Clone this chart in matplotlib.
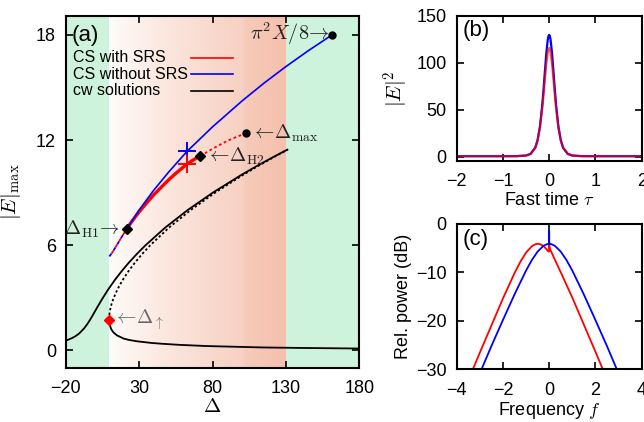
import numpy as np
import matplotlib
matplotlib.use('Agg')
import matplotlib.pyplot as plt

plt.rcParams['font.family'] = ['Liberation Sans', 'DejaVu Sans']
plt.rcParams['mathtext.fontset'] = 'cm'

# ---------------- data ----------------
# cw solutions, panel (a)
cw_upper_delta = [-20.0, -18.69, -15.83, -13.63, -11.87, -10.40, -7.54, -5.31, -3.40, -1.64, 0.07, 1.78,
                  3.52, 5.32, 9.14, 13.32, 17.91, 22.94, 28.43, 34.38, 47.71, 62.98, 80.21, 99.44,
                  109.82, 120.71, 125.23, 131.0]
cw_upper_E = [0.562, 0.6, 0.7, 0.8, 0.9, 1.0, 1.25, 1.5, 1.75, 2.0, 2.25, 2.5,
              2.75, 3.0, 3.5, 4.0, 4.5, 5.0, 5.5, 6.0, 7.0, 8.0, 9.0, 10.0,
              10.5, 11.0, 11.2, 11.45]
cw_middle_delta = [9.6, 9.62, 9.7, 10.1, 10.75, 11.60, 12.68, 15.36, 18.68, 22.59, 27.06, 32.08,
                   37.62, 50.29, 65.02, 81.79, 100.56, 110.68, 121.29, 125.65, 131.0]
cw_middle_E = [1.76, 1.9, 2.0, 2.25, 2.5, 2.75, 3.0, 3.5, 4.0, 4.5, 5.0, 5.5,
               6.0, 7.0, 8.0, 9.0, 10.0, 10.5, 11.0, 11.2, 11.45]
cw_lower_delta = [9.6, 9.75, 10.2, 11.1, 12.5, 14.9, 19.4, 23.1, 28.8, 38.2, 45.8,
                  57.3, 76.3, 95.4, 114.5, 143.1, 180.0]
cw_lower_E = [1.76, 1.6, 1.4, 1.2, 1.03, 0.86, 0.68, 0.6, 0.52, 0.43, 0.38,
              0.32, 0.25, 0.21, 0.17, 0.14, 0.11]

# cavity soliton without SRS (blue)
cs_blue_delta = [21.6, 30, 40, 50, 62.5, 80, 100, 115, 130, 145, 161.5]
cs_blue_E = [6.93, 8.01, 9.14, 10.16, 11.34, 12.75, 14.22, 15.24, 16.19, 17.08, 18.0]
# unstable low-detuning part (dashed red/blue)
cs_low_delta = [9.74, 12.0, 15.0, 18.0, 21.6]
cs_low_E = [5.36, 5.62, 6.03, 6.45, 6.93]
# cavity soliton with SRS (red), stable part and unstable part
cs_red_delta = [21.6, 25, 30, 35, 40, 45, 50, 55, 62.5, 67, 71.6]
cs_red_E = [6.93, 7.35, 7.9, 8.4, 8.88, 9.3, 9.72, 10.1, 10.62, 10.87, 11.09]
cs_red_unst_delta = [71.6, 80, 90, 97, 102.8]
cs_red_unst_E = [11.09, 11.5, 11.95, 12.2, 12.39]

# special points
delta_H1, E_H1 = 21.6, 6.93
delta_H2, E_H2 = 71.6, 11.09
delta_max, E_max = 102.8, 12.39
delta_end, E_end = 161.5, 18.0
delta_up, E_up = 9.6, 1.76
delta_sel = 62.5
E_sel_blue, E_sel_red = 11.37, 10.62
green_left_end = 9.5
green_right_start = 130.0

legend_labels = ['CS with SRS', 'CS without SRS', 'cw solutions']

# panel (b): intracavity intensity profiles
tau = [-2.0, -1.0, -0.7, -0.5, -0.4, -0.3, -0.25, -0.2, -0.15, -0.12, -0.09, -0.06, -0.03, -0.015, 0.0,
       0.015, 0.03, 0.06, 0.09, 0.12, 0.15, 0.2, 0.25, 0.3, 0.4, 0.5, 0.7, 1.0, 2.0]
I_blue = [0.5, 0.5, 0.55, 1.2, 3.0, 9.6, 17.7, 31.8, 54.7, 72.6, 92.3, 110.9, 124.5, 128.2, 129.5,
          128.2, 124.5, 110.9, 92.3, 72.6, 54.7, 31.8, 17.7, 9.6, 3.0, 1.2, 0.55, 0.5, 0.5]
I_red = [0.5, 0.5, 0.55, 1.2, 3.1, 9.7, 17.4, 30.6, 51.1, 66.9, 84.0, 99.9, 111.3, 114.4, 115.5,
         114.4, 111.3, 99.9, 84.0, 66.9, 51.1, 30.6, 17.4, 9.7, 3.1, 1.2, 0.55, 0.5, 0.5]

# panel (c): spectra (dB)
f_blue = [-3.1, -2.5, -2.0, -1.5, -1.0, -0.75, -0.5, -0.25, -0.1, 0.0, 0.0, 0.0,
          0.1, 0.25, 0.5, 0.75, 1.0, 1.5, 2.0, 2.5, 3.1]
P_blue = [-32.0, -25.24, -19.85, -14.57, -9.62, -7.46, -5.70, -4.52, -4.17, -4.1, -1.5, -4.1,
          -4.17, -4.52, -5.70, -7.46, -9.62, -14.57, -19.85, -25.24, -32.0]
f_red = [-3.49, -2.99, -2.49, -1.99, -1.49, -1.24, -0.99, -0.74, -0.59, -0.49, -0.39, -0.24,
         -0.05, 0.0, 0.0, 0.02, 0.26, 0.51, 1.01, 1.51, 2.01, 2.51]
P_red = [-32.2, -26.5, -20.9, -15.3, -10.07, -7.76, -5.84, -4.56, -4.17, -4.1, -4.17, -4.56,
         -5.6, -5.7, -3.6, -5.0, -7.5, -10.07, -15.3, -20.9, -26.5, -32.2]

# ---------------- figure ----------------
fig = plt.figure(figsize=(6.44, 4.22), dpi=100)
axA = fig.add_axes([0.102, 0.128, 0.456, 0.834])
axB = fig.add_axes([0.709, 0.6185, 0.2875, 0.3445])
axC = fig.add_axes([0.709, 0.1249, 0.2875, 0.3443])

for ax in (axA, axB, axC):
    ax.tick_params(direction='in', top=True, right=True, length=5, width=1.2,
                   labelsize=13, pad=7)
    for s in ax.spines.values():
        s.set_linewidth(1.5)
    ax.tick_params(axis='x', pad=9)

# ---- panel (a)
ylo, yhi = -1.0, 19.07
green = '#cef3dc'
axA.axvspan(-20, green_left_end, color=green, lw=0, zorder=0)
axA.axvspan(green_right_start, 180, color=green, lw=0, zorder=0)
xs = np.linspace(0, 1, 400)
stops_x = [0.0, 0.04, 0.35, 0.75, 0.78, 1.0]
stops_c = np.array([[255, 255, 255], [254, 249, 246], [251, 229, 220], [247, 209, 195],
                    [246, 202, 185], [245, 192, 172]]) / 255.0
grad = np.stack([np.interp(xs, stops_x, stops_c[:, k]) for k in range(3)], axis=-1)[None, :, :]
axA.imshow(grad, extent=[green_left_end, green_right_start, ylo, yhi], aspect='auto',
           zorder=0, interpolation='bilinear')
axA.set_xlim(-20, 180)
axA.set_ylim(ylo, yhi)

axA.plot(cw_upper_delta, cw_upper_E, color='black', lw=1.3, zorder=3)
axA.plot(cw_lower_delta, cw_lower_E, color='black', lw=1.3, zorder=3)
axA.plot(cw_middle_delta, cw_middle_E, color='black', lw=1.3, ls=(0, (1.3, 1.3)), zorder=3)

axA.plot(cs_low_delta, cs_low_E, color='blue', lw=1.3, ls=(0, (2, 2)), zorder=4)
axA.plot(cs_low_delta, cs_low_E, color='red', lw=1.3, ls=(2, (2, 2)), zorder=4)
axA.plot(cs_red_delta, cs_red_E, color='red', lw=2.4, zorder=4, solid_capstyle='round')
axA.plot(cs_red_unst_delta, cs_red_unst_E, color='red', lw=1.3, ls=(0, (1.5, 1.5)), zorder=4)
axA.plot(cs_blue_delta, cs_blue_E, color='blue', lw=1.2, zorder=5)

axA.plot([delta_sel], [E_sel_blue], marker='+', ms=13, mew=1.4, color='blue', zorder=6)
axA.plot([delta_sel], [E_sel_red], marker='+', ms=13, mew=1.4, color='red', zorder=6)
axA.plot([delta_H1, delta_H2], [E_H1, E_H2], 'D', color='black', ms=5, zorder=7)
axA.plot([delta_max, delta_end], [E_max, E_end], 'o', color='black', ms=5, zorder=7)
axA.plot([delta_up], [E_up], 'D', color='red', ms=5, zorder=7)

tc = '#222222'
afs = 14
axA.annotate(r'$\Delta_{\rm H1}\!\rightarrow$', (delta_H1, E_H1), xytext=(-4.5, 0),
             textcoords='offset points', ha='right', va='center', fontsize=afs, color=tc)
axA.annotate(r'$\leftarrow\!\Delta_{\rm H2}$', (delta_H2, E_H2), xytext=(4, 0),
             textcoords='offset points', ha='left', va='center', fontsize=afs, color=tc)
axA.annotate(r'$\leftarrow\!\Delta_{\rm max}$', (delta_max, E_max), xytext=(3.5, 0),
             textcoords='offset points', ha='left', va='center', fontsize=afs, color=tc)
axA.annotate(r'$\pi^2X/8\!\rightarrow$', (delta_end, E_end), xytext=(-2, 1),
             textcoords='offset points', ha='right', va='center', fontsize=afs + 0.5, color=tc)
axA.annotate(r'$\leftarrow\!\Delta_\uparrow$', (delta_up, E_up), xytext=(2.5, 0),
             textcoords='offset points', ha='left', va='center', fontsize=afs, color='#666666')

axA.set_xticks([-20, 30, 80, 130, 180])
axA.set_xticklabels(['\u221220', '30', '80', '130', '180'])
axA.set_yticks([0, 6, 12, 18])
axA.set_xlabel(r'$\Delta$', fontsize=15, labelpad=0)
axA.set_ylabel(r'$|E|_{\rm max}$', fontsize=15, labelpad=9)
axA.text(0.021, 0.946, '(a)', transform=axA.transAxes, fontsize=16, va='center', ha='left')

# legend drawn manually (text left, line sample right)
leg_colors = ['red', 'blue', 'black']
for i, (lab, c) in enumerate(zip(legend_labels, leg_colors)):
    yy = 0.881 - i * 0.0465
    axA.text(0.024, yy, lab, transform=axA.transAxes, fontsize=11.5, va='center', ha='left', zorder=8)
    axA.plot([0.426, 0.571], [yy, yy], transform=axA.transAxes, color=c, lw=1.2, zorder=8)

# ---- panel (b)
axB.plot(tau, I_blue, color='blue', lw=1.6)
axB.plot(tau, I_red, color='red', lw=1.6, alpha=0.7)
axB.set_xlim(-2, 2)
axB.set_ylim(-4.6, 150)
axB.set_xticks([-2, -1, 0, 1, 2])
axB.set_xticklabels(['\u22122', '\u22121', '0', '1', '2'])
axB.set_yticks([0, 50, 100, 150])
axB.set_xlabel(r'Fast time $\tau$', fontsize=13, labelpad=1)
axB.set_ylabel(r'$|E|^2$', fontsize=15, labelpad=4)
axB.text(0.034, 0.895, '(b)', transform=axB.transAxes, fontsize=16, va='center', ha='left')

# ---- panel (c)
axC.plot(f_red, P_red, color='red', lw=1.3)
axC.plot(f_blue, P_blue, color='blue', lw=1.3)
axC.set_xlim(-4, 4)
axC.set_ylim(-30, 0)
axC.set_xticks([-4, -2, 0, 2, 4])
axC.set_xticklabels(['\u22124', '\u22122', '0', '2', '4'])
axC.set_yticks([0, -10, -20, -30])
axC.set_yticklabels(['0', '\u221210', '\u221220', '\u221230'])
axC.set_xlabel(r'Frequency $f$', fontsize=13, labelpad=1)
axC.set_ylabel('Rel. power (dB)', fontsize=13, labelpad=3)
axC.text(0.034, 0.89, '(c)', transform=axC.transAxes, fontsize=16, va='center', ha='left')

fig.savefig('out.png', dpi=100)
